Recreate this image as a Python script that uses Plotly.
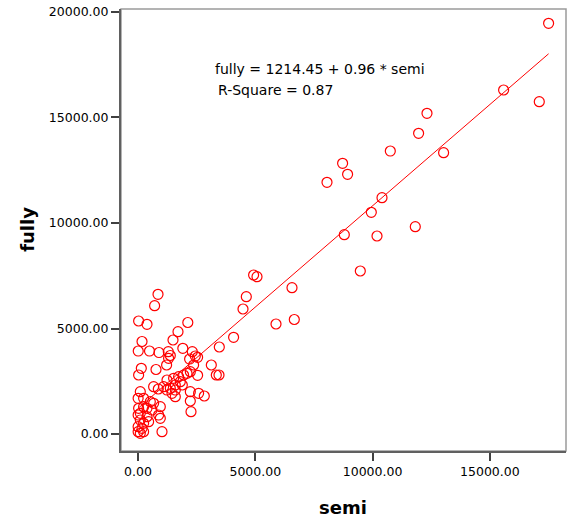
import plotly.graph_objects as go

semi = [17504, 15586, 17107, 12320, 11962, 10756, 13028, 8722, 8935, 8057,
        10402, 9946, 8795, 10189, 11821, 9477, 4928, 5073, 6565, 4617,
        4476, 5883, 6663, 4075, 3466, 3125, 3338, 3453, 2826, 2583,
        2230, 2230, 2259, 1023,
        853, 708, 26, 384, 2123, 1705, 1492, 171, 10, 490, 895, 1292, 1377, 1304,
        1910, 2315, 2443, 2541, 2200, 1219, 767, 141, 26, 2370, 2541,
        1518, 1731, 1944, 2089, 2230, 1803, 1590, 1377, 1236, 1449, 1590, 1091,
        665, 865, 1889,
        98, 5, 239, 524, 665, 951, 878, 951, 384, 26, 5, 98, 239, 5, 5, 98, 239,
        171, 452, 597, 384, 98, 239, 1590, 1236]
fully = [19463, 16302, 15748, 15198, 14250, 13411, 13331, 12829, 12307, 11928,
         11198, 10506, 9445, 9383, 9824, 7725, 7535, 7454, 6933, 6507,
         5924, 5213, 5426, 4583, 4123, 3270, 2796, 2796, 1801, 1929,
         2005, 1564, 1057, 109,
         6620, 6080, 5355, 5199, 5284, 4848, 4455, 4384, 3933, 3933, 3862, 3900, 3720, 3587,
         4061, 3900, 3696, 3635, 3554, 3270, 3057, 3113, 2796, 3270, 2782,
         2640, 2715, 2796, 2877, 2952, 2479, 2322, 2166, 2085, 1929, 1768, 2242,
         2242, 2133, 2322,
         2005, 1692, 1692, 1531, 1455, 1294, 900, 744, 1218, 1218, 900, 663, 507, 346, 109,
         33, 109, 270, 583, 1137, 820, 981, 1294, 2085, 2559]

intercept = 1214.45
slope = 0.96
r_square = 0.87

x_ticks = [0, 5000, 10000, 15000]
y_ticks = [0, 5000, 10000, 15000, 20000]

fit_x = [min(semi), max(semi)]
fit_y = [intercept + slope * v for v in fit_x]

fig = go.Figure()
fig.add_trace(go.Scatter(
    x=semi, y=fully, mode="markers",
    marker=dict(symbol="circle-open", size=10, color="#ff0000",
                line=dict(width=1.2, color="#ff0000")),
    showlegend=False, hoverinfo="skip"))
fig.add_trace(go.Scatter(
    x=fit_x, y=fit_y, mode="lines",
    line=dict(color="#ff0000", width=1), showlegend=False, hoverinfo="skip"))

font = "DejaVu Sans"
fig.update_layout(
    width=569, height=517,
    margin=dict(l=121, r=3, t=9, b=66, autoexpand=False),
    paper_bgcolor="white", plot_bgcolor="white",
    font=dict(family=font, size=12.5, color="black"),
    shapes=[dict(type="rect", xref="paper", yref="paper", x0=0, x1=1, y0=0, y1=1,
                 line=dict(color="#9a9a9a", width=1.5), layer="below")],
    annotations=[
        dict(text="fully = %.2f + %.2f * semi" % (intercept, slope),
             xref="paper", yref="paper", x=0.2067, y=0.8636,
             xanchor="left", yanchor="middle", showarrow=False,
             font=dict(family=font, size=14, color="black")),
        dict(text="R-Square = %.2f" % r_square,
             xref="paper", yref="paper", x=0.2135, y=0.8167,
             xanchor="left", yanchor="middle", showarrow=False,
             font=dict(family=font, size=14, color="black")),
        dict(text="<b>semi</b>", xref="paper", yref="paper", x=0.499, y=-0.099,
             xanchor="center", yanchor="top", showarrow=False,
             font=dict(family=font, size=18, color="black")),
        dict(text="<b>fully</b>", xref="paper", yref="paper", x=-0.212, y=0.502,
             xanchor="center", yanchor="middle", showarrow=False, textangle=-90,
             font=dict(family=font, size=18, color="black")),
    ],
)
fig.update_xaxes(range=[-725, 18246], tickvals=x_ticks, tickformat=".2f", automargin=False,
                 showgrid=False, zeroline=False, showline=True, linecolor="#606060",
                 linewidth=2, ticks="outside", ticklen=8, tickwidth=2, tickcolor="#404040")
fig.update_yaxes(range=[-805, 20141], tickvals=y_ticks, tickformat=".2f", automargin=False,
                 showgrid=False, zeroline=False, showline=True, linecolor="#606060",
                 linewidth=2, ticks="outside", ticklen=8, tickwidth=2, tickcolor="#404040")

fig.write_html("out.html", config={"displayModeBar": False},
               post_script="document.body.style.margin='0px';document.body.style.overflow='hidden';")
